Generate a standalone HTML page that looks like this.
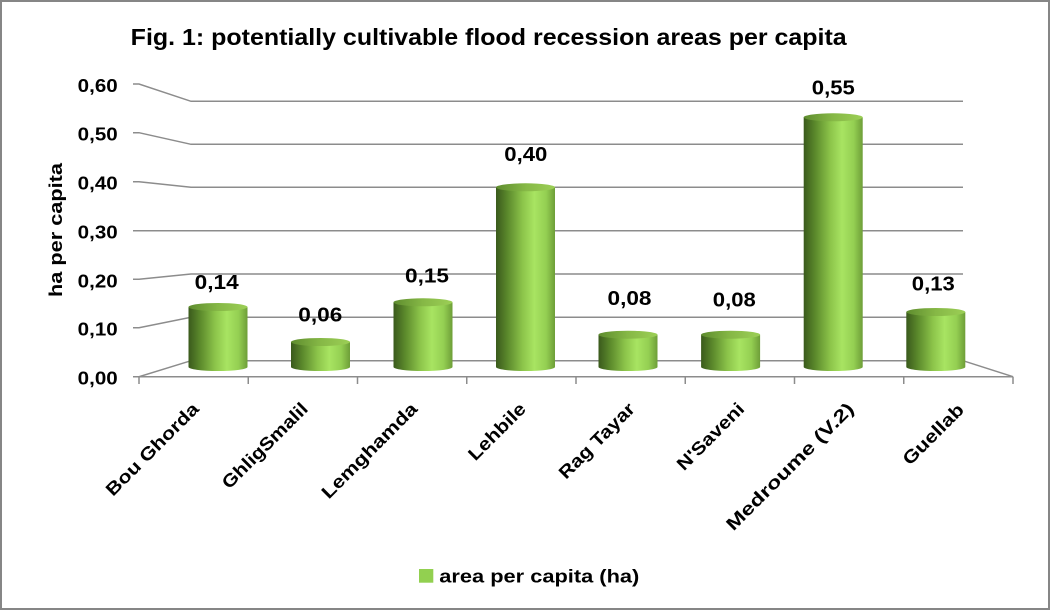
<!DOCTYPE html>
<html>
<head>
<meta charset="utf-8">
<style>
  html,body{margin:0;padding:0;background:#fff;}
  svg{display:block;}
  text{font-family:"Liberation Sans",Arial,sans-serif;font-weight:bold;fill:#000;}
</style>
</head>
<body>
<svg width="1051" height="611" viewBox="0 0 1051 611" xmlns="http://www.w3.org/2000/svg">
  <defs>
    <linearGradient id="cyl" x1="0" y1="0" x2="1" y2="0">
      <stop offset="0" stop-color="#3a5a1c"/>
      <stop offset="0.2" stop-color="#5c8a2c"/>
      <stop offset="0.45" stop-color="#8cc44a"/>
      <stop offset="0.65" stop-color="#a8e462"/>
      <stop offset="0.85" stop-color="#94cf52"/>
      <stop offset="1" stop-color="#6e9e38"/>
    </linearGradient>
    <linearGradient id="cap" x1="0" y1="0" x2="1" y2="0">
      <stop offset="0" stop-color="#5e8c2e"/>
      <stop offset="0.5" stop-color="#86b846"/>
      <stop offset="1" stop-color="#9ccf56"/>
    </linearGradient>
  </defs>

  <rect x="1" y="1" width="1048" height="608" fill="#fff" stroke="#868686" stroke-width="2"/>

  <!-- Title -->
  <text x="130.7" y="45" font-size="23" textLength="716" lengthAdjust="spacingAndGlyphs">Fig. 1: potentially cultivable flood recession areas per capita</text>

  <!-- gridlines: front-left diagonals + back wall -->
  <g stroke="#8c8c8c" stroke-width="1.5" fill="none">
    <polyline points="133,84 139,84 191,101.3 963,101.3"/>
    <polyline points="133,132.7 139,132.7 191,144.3 963,144.3"/>
    <polyline points="133,181.7 139,181.7 191,187.3 963,187.3"/>
    <polyline points="133,230.7 139,230.7 191,230.7 963,230.7"/>
    <polyline points="133,279.3 139,279.3 191,274 963,274"/>
    <polyline points="133,327.7 139,327.7 191,317.3 963,317.3"/>
    <polyline points="133,376.7 139,376.7 191,360.7 963,360.7 1013,376.7"/>
    <line x1="139" y1="376.7" x2="1013" y2="376.7"/>
    <line x1="139" y1="376.7" x2="139" y2="384"/>
    <line x1="248.25" y1="376.7" x2="248.25" y2="384"/>
    <line x1="357.5" y1="376.7" x2="357.5" y2="384"/>
    <line x1="466.75" y1="376.7" x2="466.75" y2="384"/>
    <line x1="576" y1="376.7" x2="576" y2="384"/>
    <line x1="685.25" y1="376.7" x2="685.25" y2="384"/>
    <line x1="794.5" y1="376.7" x2="794.5" y2="384"/>
    <line x1="903.75" y1="376.7" x2="903.75" y2="384"/>
    <line x1="1013" y1="376.7" x2="1013" y2="384"/>
  </g>

  <!-- Y tick labels -->
  <g font-size="18" text-anchor="end">
    <text x="117.7" y="92" textLength="40" lengthAdjust="spacingAndGlyphs">0,60</text>
    <text x="117.7" y="140.7" textLength="40" lengthAdjust="spacingAndGlyphs">0,50</text>
    <text x="117.7" y="189.7" textLength="40" lengthAdjust="spacingAndGlyphs">0,40</text>
    <text x="117.7" y="238.7" textLength="40" lengthAdjust="spacingAndGlyphs">0,30</text>
    <text x="117.7" y="287.3" textLength="40" lengthAdjust="spacingAndGlyphs">0,20</text>
    <text x="117.7" y="335.7" textLength="40" lengthAdjust="spacingAndGlyphs">0,10</text>
    <text x="117.7" y="384.7" textLength="40" lengthAdjust="spacingAndGlyphs">0,00</text>
  </g>

  <!-- Y axis title -->
  <text transform="translate(62,230) rotate(-90)" font-size="18.5" text-anchor="middle" textLength="134" lengthAdjust="spacingAndGlyphs">ha per capita</text>

  <!-- Cylinders -->
  <g>
    <path d="M188.5,307 L188.5,367 A29.5,4 0 0 0 247.5,367 L247.5,307 Z" fill="url(#cyl)"/>
    <ellipse cx="218" cy="307" rx="29.5" ry="4" fill="url(#cap)"/>

    <path d="M291,342 L291,367 A29.5,4 0 0 0 350,367 L350,342 Z" fill="url(#cyl)"/>
    <ellipse cx="320.5" cy="342" rx="29.5" ry="4" fill="url(#cap)"/>

    <path d="M393.5,302.3 L393.5,367 A29.5,4 0 0 0 452.5,367 L452.5,302.3 Z" fill="url(#cyl)"/>
    <ellipse cx="423" cy="302.3" rx="29.5" ry="4" fill="url(#cap)"/>

    <path d="M496,187.3 L496,367 A29.5,4 0 0 0 555,367 L555,187.3 Z" fill="url(#cyl)"/>
    <ellipse cx="525.5" cy="187.3" rx="29.5" ry="4" fill="url(#cap)"/>

    <path d="M598.5,334.7 L598.5,367 A29.5,4 0 0 0 657.5,367 L657.5,334.7 Z" fill="url(#cyl)"/>
    <ellipse cx="628" cy="334.7" rx="29.5" ry="4" fill="url(#cap)"/>

    <path d="M701.1,334.7 L701.1,367 A29.5,4 0 0 0 760.1,367 L760.1,334.7 Z" fill="url(#cyl)"/>
    <ellipse cx="730.6" cy="334.7" rx="29.5" ry="4" fill="url(#cap)"/>

    <path d="M803.7,117.3 L803.7,367 A29.5,4 0 0 0 862.7,367 L862.7,117.3 Z" fill="url(#cyl)"/>
    <ellipse cx="833.2" cy="117.3" rx="29.5" ry="4" fill="url(#cap)"/>

    <path d="M906.3,312 L906.3,367 A29.5,4 0 0 0 965.3,367 L965.3,312 Z" fill="url(#cyl)"/>
    <ellipse cx="935.8" cy="312" rx="29.5" ry="4" fill="url(#cap)"/>
  </g>

  <!-- Data labels -->
  <g font-size="20" text-anchor="middle">
    <text x="216.7" y="289" textLength="44" lengthAdjust="spacingAndGlyphs">0,14</text>
    <text x="320.3" y="321.7" textLength="44" lengthAdjust="spacingAndGlyphs">0,06</text>
    <text x="427" y="282.7" textLength="44" lengthAdjust="spacingAndGlyphs">0,15</text>
    <text x="525.8" y="161" textLength="43" lengthAdjust="spacingAndGlyphs">0,40</text>
    <text x="629.5" y="305" textLength="44" lengthAdjust="spacingAndGlyphs">0,08</text>
    <text x="734.3" y="306.7" textLength="43" lengthAdjust="spacingAndGlyphs">0,08</text>
    <text x="833.3" y="94.3" textLength="43" lengthAdjust="spacingAndGlyphs">0,55</text>
    <text x="933.3" y="290.7" textLength="43" lengthAdjust="spacingAndGlyphs">0,13</text>
  </g>

  <!-- Category labels -->
  <g font-size="18" text-anchor="end">
    <text transform="translate(200,410) rotate(-45)" textLength="123" lengthAdjust="spacingAndGlyphs">Bou Ghorda</text>
    <text transform="translate(309,410) rotate(-45)" textLength="113" lengthAdjust="spacingAndGlyphs">GhligSmalil</text>
    <text transform="translate(418.5,410) rotate(-45)" textLength="127" lengthAdjust="spacingAndGlyphs">Lemghamda</text>
    <text transform="translate(527,410) rotate(-45)" textLength="73" lengthAdjust="spacingAndGlyphs">Lehbile</text>
    <text transform="translate(636,410) rotate(-45)" textLength="99" lengthAdjust="spacingAndGlyphs">Rag Tayar</text>
    <text transform="translate(745.5,410) rotate(-45)" textLength="87" lengthAdjust="spacingAndGlyphs">N'Saveni</text>
    <text transform="translate(855,410) rotate(-45)" textLength="172" lengthAdjust="spacingAndGlyphs">Medroume (V.2)</text>
    <text transform="translate(965,411) rotate(-45)" textLength="78" lengthAdjust="spacingAndGlyphs">Guellab</text>
  </g>

  <!-- Legend -->
  <rect x="419" y="569" width="14.3" height="13.7" fill="#92d050"/>
  <text x="439.3" y="582.3" font-size="18" textLength="200" lengthAdjust="spacingAndGlyphs">area per capita (ha)</text>
</svg>
</body>
</html>
